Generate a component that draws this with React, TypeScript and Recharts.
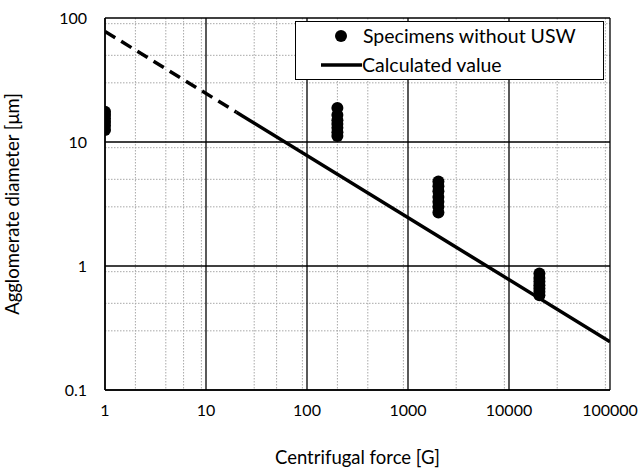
import React from "react";
import {
  ScatterChart,
  Scatter,
  XAxis,
  YAxis,
  CartesianGrid,
  Label
} from "recharts";

type Pt = { x: number; y: number };

const xTicks = [1, 10, 100, 1000, 10000, 100000];
const yTicks = [0.1, 1, 10, 100];

const specimens: Pt[] = [
  { x: 1, y: 12.5 }, { x: 1, y: 13.5 }, { x: 1, y: 14.5 }, { x: 1, y: 15.5 }, { x: 1, y: 16.5 }, { x: 1, y: 17.5 },
  { x: 200, y: 11.2 }, { x: 200, y: 12 }, { x: 200, y: 13 }, { x: 200, y: 14 }, { x: 200, y: 15 }, { x: 200, y: 16.5 }, { x: 200, y: 18.8 },
  { x: 2000, y: 2.7 }, { x: 2000, y: 3.0 }, { x: 2000, y: 3.3 }, { x: 2000, y: 3.6 }, { x: 2000, y: 4.0 }, { x: 2000, y: 4.4 }, { x: 2000, y: 4.8 },
  { x: 20000, y: 0.58 }, { x: 20000, y: 0.62 }, { x: 20000, y: 0.66 }, { x: 20000, y: 0.7 }, { x: 20000, y: 0.75 }, { x: 20000, y: 0.8 }, { x: 20000, y: 0.87 }
];

// calculated curve, extrapolated part is dashed
const calcDashed: Pt[] = [
  { x: 1, y: 78 },
  { x: 20, y: 17.4 }
];
const calcSolid: Pt[] = [
  { x: 20, y: 17.4 },
  { x: 100000, y: 0.245 }
];

const minorX: number[] = [];
for (const d of [1, 10, 100, 1000, 10000]) for (let k = 2; k <= 9; k++) minorX.push(d * k);
const minorY: number[] = [];
for (const d of [0.1, 1, 10]) for (let k = 2; k <= 9; k++) minorY.push(d * k);

const FONT = "Lato, 'Open Sans', sans-serif";
const TICK_FS = 16;
const TITLE_FS = 18.5;

const fmt = (v: number) => String(v);

function LegendBox() {
  return (
    <div
      style={{
        position: "absolute",
        left: 295,
        top: 21,
        width: 309,
        height: 59,
        border: "1.5px solid #000",
        background: "#fff",
        fontFamily: FONT,
        fontSize: 19.5,
        color: "#000",
        boxSizing: "border-box"
      }}
    >
      <svg width={70} height={59} style={{ position: "absolute", left: 0, top: 0 }}>
        <circle cx={45} cy={14} r={6} fill="#000" />
        <line x1={25} y1={43} x2={66} y2={43} stroke="#000" strokeWidth={3.5} />
      </svg>
      <div style={{ position: "absolute", left: 67, top: 3, height: 22, lineHeight: "22px", whiteSpace: "nowrap" }}>
        Specimens without USW
      </div>
      <div style={{ position: "absolute", left: 66, top: 32, height: 22, lineHeight: "22px", whiteSpace: "nowrap" }}>
        Calculated value
      </div>
    </div>
  );
}

export default function App() {
  return (
    <div style={{ position: "absolute", left: 0, top: 0, width: 644, height: 474, background: "#fff" }}>
      <ScatterChart width={644} height={474} margin={{ top: 18, right: 34, left: 0, bottom: 0 }}>
        <CartesianGrid
          horizontalValues={minorY}
          verticalValues={minorX}
          stroke="#a8a8a8"
          strokeDasharray="1.5 1.5"
          strokeWidth={1}
        />
        <CartesianGrid
          horizontalValues={yTicks}
          verticalValues={xTicks}
          stroke="#000"
          strokeWidth={1.3}
        />
        <XAxis
          type="number"
          dataKey="x"
          scale="log"
          domain={[1, 100000]}
          ticks={xTicks}
          tickFormatter={fmt}
          allowDataOverflow
          height={84}
          tickLine={false}
          axisLine={{ stroke: "#000", strokeWidth: 1.5 }}
          tick={{ fill: "#000", fontSize: TICK_FS, fontFamily: FONT }}
          tickMargin={9}
        >
          <Label value="Centrifugal force [G]" position="insideBottom" offset={10} style={{ fill: "#000", fontSize: TITLE_FS, fontFamily: FONT }} />
        </XAxis>
        <YAxis
          type="number"
          dataKey="y"
          scale="log"
          domain={[0.1, 100]}
          ticks={yTicks}
          tickFormatter={fmt}
          allowDataOverflow
          width={105}
          tickLine={false}
          axisLine={{ stroke: "#000", strokeWidth: 1.5 }}
          tick={{ fill: "#000", fontSize: TICK_FS, fontFamily: FONT }}
          tickMargin={12}
        >
          <Label value="Agglomerate diameter [μm]" angle={-90} position="insideLeft" offset={12} style={{ textAnchor: "middle", fill: "#000", fontSize: TITLE_FS, fontFamily: FONT }} />
        </YAxis>
        <Scatter
          name="Calculated value (extrapolated)"
          data={calcDashed}
          line={{ stroke: "#000", strokeWidth: 3.5, strokeDasharray: "12 7" }}
          lineType="joint"
          shape={() => null}
          isAnimationActive={false}
        />
        <Scatter
          name="Calculated value"
          data={calcSolid}
          line={{ stroke: "#000", strokeWidth: 3.5 }}
          lineType="joint"
          shape={() => null}
          isAnimationActive={false}
        />
        <Scatter
          name="Specimens without USW"
          data={specimens}
          fill="#000"
          shape={(p: any) => <circle cx={p.cx} cy={p.cy} r={6} fill="#000" />}
          isAnimationActive={false}
        />
      </ScatterChart>
      <LegendBox />
    </div>
  );
}
